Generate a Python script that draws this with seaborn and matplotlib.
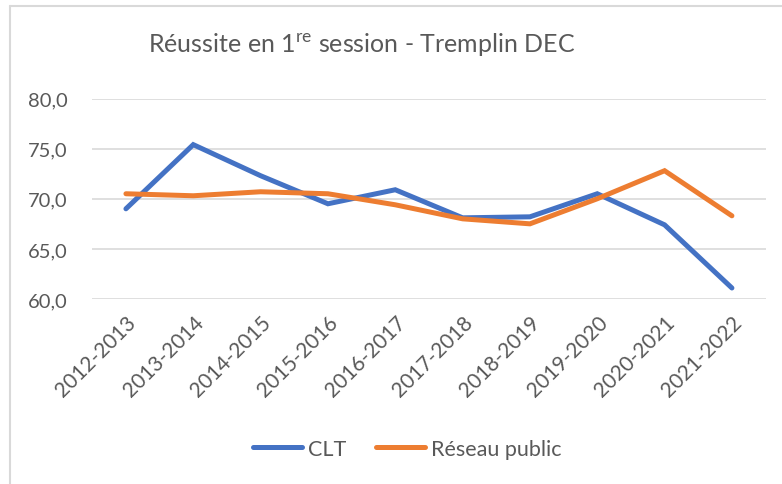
import matplotlib
matplotlib.use("Agg")
import matplotlib.pyplot as plt
import pandas as pd
import seaborn as sns
from matplotlib.lines import Line2D

# data
years = ["2012-2013", "2013-2014", "2014-2015", "2015-2016", "2016-2017",
         "2017-2018", "2018-2019", "2019-2020", "2020-2021", "2021-2022"]
clt = [69.0, 75.4, 72.3, 69.5, 70.9, 68.1, 68.2, 70.5, 67.4, 61.1]
reseau = [70.5, 70.3, 70.7, 70.5, 69.4, 68.0, 67.5, 70.0, 72.8, 68.3]
series_names = ["CLT", "Réseau public"]
y_ticks = [60, 65, 70, 75, 80]
y_tick_labels = ["60,0", "65,0", "70,0", "75,0", "80,0"]

colors = {"CLT": "#4472C4", "Réseau public": "#ED7D31"}
text_color = "#595959"

sns.set_style("white")
plt.rcParams["font.family"] = ["Lato", "DejaVu Sans"]
plt.rcParams["mathtext.fontset"] = "custom"
plt.rcParams["mathtext.rm"] = "Lato"

df = pd.DataFrame({
    "year": years * 2,
    "value": clt + reseau,
    "serie": [series_names[0]] * len(years) + [series_names[1]] * len(years),
})

fig = plt.figure(figsize=(7.82, 4.85), dpi=100)
ax = fig.add_axes([0.118, 0.3814, 0.861, 0.4134])

sns.lineplot(data=df, x="year", y="value", hue="serie", palette=colors,
             sort=False, linewidth=3.6, legend=False, ax=ax,
             solid_capstyle="round", solid_joinstyle="miter")

ax.set_xlim(-0.5, len(years) - 0.5)
ax.set_ylim(60, 80)
ax.set_yticks(y_ticks)
ax.set_yticklabels(y_tick_labels)
ax.set_xticks(range(len(years)))
ax.set_xticklabels(years, rotation=45, ha="right", rotation_mode="anchor")
ax.tick_params(axis="y", length=0, labelsize=14.5, labelcolor=text_color, pad=18)
ax.tick_params(axis="x", length=0, labelsize=15, labelcolor=text_color, pad=9)
ax.grid(axis="y", color="#D9D9D9", linewidth=1.2)
ax.set_axisbelow(True)
for s in ax.spines.values():
    s.set_visible(False)
ax.set_xlabel("")
ax.set_ylabel("")

# title with superscript
fig.text(362 / 782, 1 - 44 / 485, r"Réussite en 1$^{\mathrm{re}}$ session - Tremplin DEC",
         ha="center", va="center", fontsize=18, color=text_color)

# legend at the bottom
handles = [Line2D([], [], color=colors[n], linewidth=3.6, solid_capstyle="round")
           for n in series_names]
leg = fig.legend(handles, series_names, loc="center", ncol=2,
                 bbox_to_anchor=(407 / 782, 1 - 450 / 485), frameon=False,
                 fontsize=15.5, handlelength=2.3, columnspacing=1.4,
                 handletextpad=0.25)
for t in leg.get_texts():
    t.set_color(text_color)

# chart border (top and left visible in the reference)
fig.add_artist(Line2D([10 / 782, 10 / 782], [0, 1 - 7 / 485],
                      transform=fig.transFigure, color="#D9D9D9", linewidth=1.5))
fig.add_artist(Line2D([10 / 782, 1], [1 - 7 / 485, 1 - 7 / 485],
                      transform=fig.transFigure, color="#D9D9D9", linewidth=1.5))

fig.savefig("out.png", dpi=100)
